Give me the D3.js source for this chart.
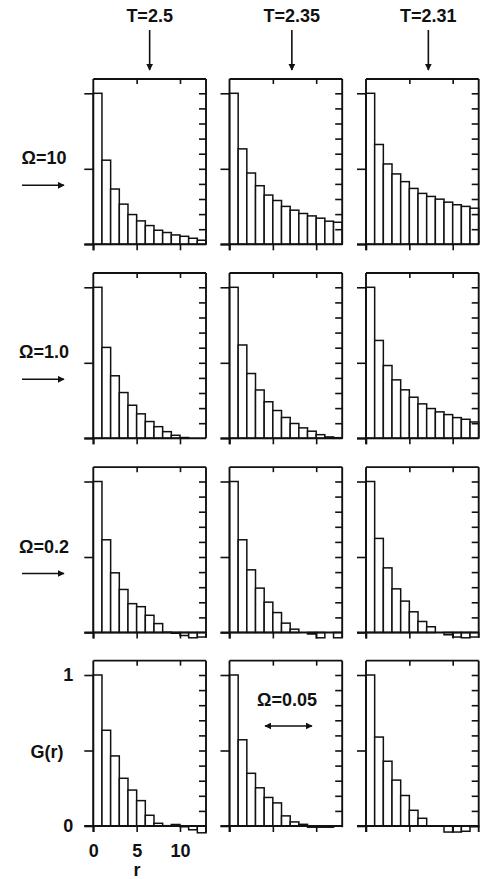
<!DOCTYPE html>
<html>
<head>
<meta charset="utf-8">
<title>G(r) histograms</title>
<script src="https://d3js.org/d3.v7.min.js"></script>
<style>
  body { margin: 0; background: #fff; }
  .axis line { stroke: #111; stroke-width: 1.6; }
  .axis .domain { display: none; }
  .lbl { font-family: "Liberation Sans", Arial, sans-serif; font-weight: bold; fill: #111; }
</style>
</head>
<body>
<script>

// column / row labels
var temps = ["T=2.5", "T=2.35", "T=2.31"];
var omegas = ["\u03A9=10", "\u03A9=1.0", "\u03A9=0.2", "\u03A9=0.05"];

// G(r) for r = 0..12 (bin width 1)
var w10_t250 = [1.0, 0.557, 0.366, 0.266, 0.197, 0.155, 0.124, 0.093, 0.078, 0.062, 0.053, 0.040, 0.027];
var w10_t235 = [1.0, 0.632, 0.472, 0.388, 0.326, 0.290, 0.251, 0.226, 0.204, 0.188, 0.173, 0.153, 0.146];
var w10_t231 = [1.0, 0.661, 0.532, 0.466, 0.415, 0.370, 0.337, 0.317, 0.299, 0.279, 0.262, 0.251, 0.239];

var w1_t250 = [1.0, 0.602, 0.414, 0.303, 0.219, 0.162, 0.111, 0.077, 0.044, 0.020, 0.005, 0, 0];
var w1_t235 = [1.0, 0.618, 0.429, 0.320, 0.242, 0.184, 0.138, 0.098, 0.069, 0.047, 0.024, 0.009, 0.004];
var w1_t231 = [1.0, 0.648, 0.482, 0.387, 0.321, 0.272, 0.228, 0.197, 0.175, 0.157, 0.137, 0.126, 0.108];

var w02_t250 = [1.0, 0.614, 0.395, 0.285, 0.191, 0.171, 0.114, 0.059, 0.002, -0.005, -0.02, -0.035, -0.03];
var w02_t235 = [1.0, 0.614, 0.415, 0.294, 0.201, 0.132, 0.062, 0.022, 0, -0.01, -0.035, 0, -0.035];
var w02_t231 = [1.0, 0.623, 0.428, 0.289, 0.208, 0.137, 0.073, 0.038, 0, -0.015, -0.03, -0.035, -0.03];

var w005_t250 = [1.0, 0.634, 0.464, 0.316, 0.238, 0.168, 0.071, 0.018, 0.002, 0.01, -0.005, -0.025, -0.045];
var w005_t235 = [1.0, 0.571, 0.349, 0.253, 0.189, 0.153, 0.067, 0.027, 0.011, -0.008, -0.008, -0.008, 0];
var w005_t231 = [1.0, 0.589, 0.429, 0.304, 0.202, 0.104, 0.051, 0, 0, -0.04, -0.04, -0.035, -0.005];

var xTicks = [0, 5, 10];
var yLabelTicks = [0, 0.5, 1];

var grid = [
  [w10_t250, w10_t235, w10_t231],
  [w1_t250, w1_t235, w1_t231],
  [w02_t250, w02_t235, w02_t231],
  [w005_t250, w005_t235, w005_t231]
];

var w = 481, h = 879;
var colLeft = [93.3, 229.5, 366];
var panelW = 112.7;
var rowZero = [244.3, 438.3, 632.5, 826];
var unit = 151;
var yTop = 1.095;

var svg = d3.select("body").append("svg")
  .attr("width", w)
  .attr("height", h);

var defs = svg.append("defs");
defs.append("marker")
  .attr("id", "head")
  .attr("viewBox", "0 0 10 10")
  .attr("refX", 9).attr("refY", 5)
  .attr("markerWidth", 7).attr("markerHeight", 7)
  .attr("markerUnits", "userSpaceOnUse")
  .attr("orient", "auto-start-reverse")
  .append("path")
  .attr("d", "M0,0 L10,5 L0,10 z")
  .attr("fill", "#111");

grid.forEach(function(row, ri) {
  row.forEach(function(vals, ci) {
    var x = d3.scaleLinear().domain([0, 13]).range([colLeft[ci], colLeft[ci] + panelW]);
    var y = d3.scaleLinear().domain([0, 1]).range([rowZero[ri], rowZero[ri] - unit]);
    var g = svg.append("g");
    var minV = Math.min(0, d3.min(vals));

    // bars
    g.selectAll("rect")
      .data(vals)
      .enter()
      .append("rect")
      .attr("x", function(d, i) { return x(i); })
      .attr("width", function(d, i) { return x(i + 1) - x(i); })
      .attr("y", function(d) { return y(Math.max(0, d)); })
      .attr("height", function(d) { return Math.abs(y(d) - y(0)); })
      .attr("fill", "#fff")
      .attr("stroke", "#111")
      .attr("stroke-width", 1.5);

    // frame: left, top, right and the zero line
    var frame = g.append("g").attr("stroke", "#111").attr("stroke-width", 1.9).attr("fill", "none");
    frame.append("line").attr("x1", x(0)).attr("x2", x(0)).attr("y1", y(yTop)).attr("y2", y(0) + 6);
    frame.append("line").attr("x1", x(0)).attr("x2", x(13)).attr("y1", y(yTop)).attr("y2", y(yTop));
    frame.append("line").attr("x1", x(13)).attr("x2", x(13)).attr("y1", y(yTop)).attr("y2", y(minV));
    frame.append("line").attr("x1", x(0) - 9).attr("x2", x(13)).attr("y1", y(0)).attr("y2", y(0));

    var bottomLeft = (ri === 3 && ci === 0);

    g.append("g").attr("class", "axis")
      .attr("transform", "translate(0," + y(0) + ")")
      .call(d3.axisBottom(x).tickValues(xTicks).tickSize(6).tickPadding(12)
        .tickFormat(bottomLeft ? d3.format("d") : ""))
      .selectAll("text").attr("class", "lbl").style("font-size", "18px");

    g.append("g").attr("class", "axis")
      .attr("transform", "translate(0," + y(yTop) + ")")
      .call(d3.axisTop(x).tickValues([5, 10]).tickSize(-5).tickFormat(""));

    g.append("g").attr("class", "axis")
      .attr("transform", "translate(" + x(0) + ",0)")
      .call(d3.axisLeft(y).tickValues(yLabelTicks).tickSize(9).tickPadding(11)
        .tickFormat(function(d) { return bottomLeft && d !== 0.5 ? d : ""; }))
      .selectAll("text").attr("class", "lbl").style("font-size", "18px");

    g.append("g").attr("class", "axis")
      .attr("transform", "translate(" + x(13) + ",0)")
      .call(d3.axisRight(y).tickValues(d3.range(1, 11).map(function(k) { return k / 10; }))
        .tickSize(-7).tickFormat(""));

    if (ri === 0) {
      var cx = colLeft[ci] + panelW / 2 + (ci === 0 ? 0 : 6);
      svg.append("text").attr("class", "lbl")
        .attr("x", cx).attr("y", 22)
        .attr("text-anchor", "middle")
        .style("font-size", "18px")
        .text(temps[ci]);
      svg.append("line")
        .attr("x1", cx).attr("x2", cx)
        .attr("y1", 30).attr("y2", 70)
        .attr("stroke", "#111").attr("stroke-width", 1.6)
        .attr("marker-end", "url(#head)");
    }
  });

  if (ri < 3) {
    var ly = rowZero[ri] - 80;
    svg.append("text").attr("class", "lbl")
      .attr("x", 44).attr("y", ly)
      .attr("text-anchor", "middle")
      .style("font-size", "18px")
      .text(omegas[ri]);
    svg.append("line")
      .attr("x1", 22).attr("x2", 64)
      .attr("y1", ly + 21).attr("y2", ly + 21)
      .attr("stroke", "#111").attr("stroke-width", 1.6)
      .attr("marker-end", "url(#head)");
  }
});

// Omega = 0.05 label inside the bottom middle panel
svg.append("text").attr("class", "lbl")
  .attr("x", 287).attr("y", 706)
  .attr("text-anchor", "middle")
  .style("font-size", "18px")
  .text(omegas[3]);
svg.append("line")
  .attr("x1", 265).attr("x2", 312)
  .attr("y1", 726).attr("y2", 726)
  .attr("stroke", "#111").attr("stroke-width", 1.6)
  .attr("marker-start", "url(#head)")
  .attr("marker-end", "url(#head)");

// axis titles
svg.append("text").attr("class", "lbl")
  .attr("x", 47).attr("y", 758)
  .attr("text-anchor", "middle")
  .style("font-size", "18px")
  .text("G(r)");
svg.append("text").attr("class", "lbl")
  .attr("x", 137).attr("y", 876)
  .attr("text-anchor", "middle")
  .style("font-size", "18px")
  .text("r");

</script>
</body>
</html>
